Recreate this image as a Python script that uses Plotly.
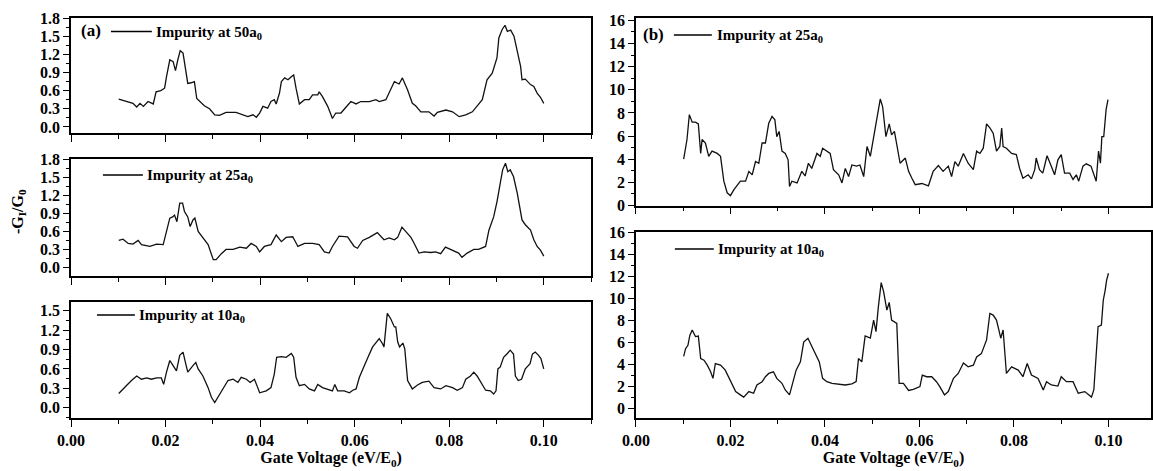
import plotly.graph_objects as go

FONT = "Liberation Serif, Times New Roman, serif"

# ---------------- data ----------------
a50_x = [0.0101,0.0117,0.0131,0.0139,0.0146,0.0153,0.0163,0.0174,0.0180,0.0190,0.0198,0.0202,0.0209,0.0216,0.0221,0.0226,0.0231,0.0237,0.0242,0.0247,0.0254,0.0261,0.0266,0.0272,0.0282,0.0293,0.0304,0.0314,0.0328,0.0349,0.0364,0.0374,0.0385,0.0392,0.0399,0.0406,0.0416,0.0423,0.0430,0.0434,0.0441,0.0445,0.0452,0.0459,0.0466,0.0471,0.0476,0.0483,0.0494,0.0504,0.0511,0.0522,0.0525,0.0532,0.0543,0.0553,0.0560,0.0571,0.0582,0.0592,0.0603,0.0613,0.0631,0.0645,0.0652,0.0666,0.0684,0.0694,0.0701,0.0712,0.0722,0.0729,0.0740,0.0757,0.0768,0.0775,0.0793,0.0807,0.0821,0.0835,0.0849,0.0859,0.0870,0.0880,0.0891,0.0901,0.0905,0.0912,0.0918,0.0923,0.0930,0.0937,0.0944,0.0951,0.0954,0.0961,0.0972,0.0979,0.0986,0.0993,0.1000]
a50_y = [0.46,0.42,0.39,0.33,0.39,0.34,0.42,0.38,0.58,0.60,0.64,0.83,1.11,1.08,0.93,1.11,1.26,1.22,1.00,0.72,0.73,0.75,0.47,0.42,0.35,0.30,0.20,0.19,0.24,0.24,0.20,0.17,0.20,0.16,0.23,0.34,0.31,0.42,0.45,0.38,0.56,0.75,0.81,0.78,0.83,0.86,0.64,0.38,0.45,0.45,0.53,0.53,0.58,0.50,0.34,0.14,0.23,0.23,0.33,0.42,0.38,0.42,0.42,0.45,0.42,0.45,0.75,0.71,0.81,0.61,0.39,0.35,0.25,0.25,0.18,0.24,0.28,0.25,0.17,0.20,0.25,0.34,0.45,0.78,0.89,1.14,1.47,1.61,1.68,1.58,1.60,1.50,1.27,1.00,0.78,0.79,0.70,0.67,0.56,0.49,0.39]

a25_x = [0.0101,0.0110,0.0121,0.0131,0.0142,0.0149,0.0167,0.0181,0.0195,0.0202,0.0209,0.0215,0.0219,0.0224,0.0230,0.0236,0.0240,0.0247,0.0252,0.0258,0.0262,0.0269,0.0279,0.0290,0.0301,0.0307,0.0318,0.0328,0.0343,0.0357,0.0371,0.0381,0.0392,0.0399,0.0409,0.0423,0.0434,0.0445,0.0455,0.0469,0.0480,0.0494,0.0511,0.0525,0.0536,0.0546,0.0553,0.0567,0.0585,0.0599,0.0606,0.0617,0.0631,0.0648,0.0662,0.0673,0.0684,0.0691,0.0700,0.0708,0.0719,0.0726,0.0736,0.0747,0.0761,0.0771,0.0782,0.0792,0.0806,0.0820,0.0827,0.0838,0.0852,0.0862,0.0877,0.0884,0.0894,0.0901,0.0908,0.0913,0.0919,0.0924,0.0929,0.0936,0.0944,0.0951,0.0954,0.0961,0.0972,0.0979,0.0986,0.0993,0.1000]
a25_y = [0.45,0.47,0.40,0.39,0.45,0.38,0.35,0.39,0.38,0.62,0.82,0.84,0.87,0.76,1.07,1.07,0.93,0.84,0.68,0.79,0.82,0.60,0.49,0.38,0.13,0.13,0.23,0.30,0.30,0.34,0.32,0.40,0.35,0.26,0.35,0.38,0.54,0.43,0.50,0.51,0.35,0.40,0.40,0.38,0.26,0.24,0.35,0.52,0.51,0.35,0.32,0.45,0.50,0.58,0.46,0.49,0.46,0.50,0.67,0.60,0.50,0.40,0.24,0.26,0.25,0.26,0.23,0.34,0.29,0.24,0.17,0.24,0.30,0.30,0.35,0.62,0.84,1.09,1.40,1.62,1.73,1.59,1.62,1.51,1.23,0.95,0.79,0.71,0.62,0.46,0.35,0.29,0.19]

a10_x = [0.0101,0.0107,0.0117,0.0128,0.0139,0.0149,0.0160,0.0170,0.0181,0.0191,0.0196,0.0202,0.0209,0.0216,0.0223,0.0230,0.0237,0.0242,0.0247,0.0258,0.0264,0.0269,0.0279,0.0290,0.0297,0.0304,0.0311,0.0321,0.0332,0.0343,0.0353,0.0360,0.0371,0.0379,0.0388,0.0395,0.0399,0.0413,0.0423,0.0430,0.0435,0.0445,0.0455,0.0466,0.0471,0.0476,0.0483,0.0494,0.0504,0.0515,0.0522,0.0532,0.0543,0.0553,0.0558,0.0564,0.0578,0.0589,0.0596,0.0603,0.0610,0.0617,0.0627,0.0638,0.0652,0.0659,0.0662,0.0669,0.0676,0.0684,0.0687,0.0691,0.0695,0.0702,0.0706,0.0712,0.0722,0.0733,0.0743,0.0757,0.0768,0.0782,0.0793,0.0807,0.0817,0.0828,0.0835,0.0845,0.0852,0.0859,0.0870,0.0877,0.0887,0.0894,0.0899,0.0903,0.0908,0.0915,0.0922,0.0929,0.0936,0.0940,0.0946,0.0953,0.0961,0.0971,0.0976,0.0982,0.0989,0.0994,0.1000]
a10_y = [0.22,0.27,0.34,0.42,0.49,0.44,0.46,0.44,0.46,0.46,0.36,0.55,0.73,0.65,0.57,0.81,0.86,0.70,0.55,0.65,0.70,0.60,0.49,0.31,0.16,0.08,0.16,0.29,0.42,0.44,0.39,0.47,0.44,0.39,0.44,0.31,0.23,0.26,0.31,0.52,0.78,0.79,0.78,0.84,0.78,0.47,0.34,0.36,0.29,0.26,0.36,0.31,0.29,0.26,0.36,0.26,0.26,0.23,0.27,0.29,0.47,0.60,0.76,0.94,1.07,0.99,0.94,1.46,1.38,1.25,1.25,1.02,0.94,1.00,0.91,0.42,0.29,0.35,0.39,0.41,0.31,0.29,0.34,0.31,0.27,0.31,0.44,0.49,0.55,0.49,0.36,0.27,0.26,0.21,0.26,0.60,0.63,0.78,0.83,0.89,0.83,0.49,0.42,0.44,0.60,0.68,0.83,0.86,0.81,0.76,0.60]

b25_x = [0.0101,0.0108,0.0113,0.0119,0.0126,0.0132,0.0137,0.0140,0.0147,0.0154,0.0161,0.0172,0.0179,0.0186,0.0193,0.0200,0.0207,0.0221,0.0232,0.0239,0.0246,0.0253,0.0260,0.0267,0.0274,0.0281,0.0288,0.0294,0.0298,0.0303,0.0309,0.0316,0.0322,0.0325,0.0330,0.0341,0.0351,0.0358,0.0365,0.0372,0.0383,0.0390,0.0395,0.0404,0.0411,0.0418,0.0429,0.0436,0.0443,0.0450,0.0457,0.0467,0.0474,0.0482,0.0489,0.0496,0.0503,0.0510,0.0517,0.0522,0.0529,0.0536,0.0541,0.0547,0.0552,0.0559,0.0570,0.0577,0.0584,0.0591,0.0605,0.0619,0.0629,0.0640,0.0650,0.0661,0.0668,0.0675,0.0682,0.0693,0.0703,0.0714,0.0721,0.0728,0.0735,0.0742,0.0749,0.0756,0.0763,0.0770,0.0774,0.0777,0.0784,0.0795,0.0805,0.0812,0.0819,0.0830,0.0837,0.0844,0.0847,0.0854,0.0861,0.0870,0.0879,0.0886,0.0893,0.0900,0.0907,0.0918,0.0925,0.0932,0.0937,0.0946,0.0953,0.0963,0.0974,0.0979,0.0983,0.0986,0.0990,0.0995,0.0999]
b25_y = [4.0,5.7,7.85,7.2,7.2,7.05,4.5,5.7,5.4,4.25,4.7,4.5,4.25,2.1,1.1,0.85,1.35,2.1,2.1,2.95,2.65,3.8,3.65,5.4,5.4,7.1,7.7,7.4,5.95,6.4,4.7,4.5,3.95,1.65,2.1,1.95,2.95,2.55,3.65,3.2,4.5,4.25,4.95,4.7,4.5,3.1,2.65,1.95,3.2,2.5,3.5,3.4,3.5,2.5,5.1,4.25,5.95,7.7,9.2,8.55,5.95,7.05,6.1,6.4,5.1,3.65,4.1,2.95,2.35,1.8,1.9,1.7,2.95,3.45,2.95,3.4,2.5,3.8,3.4,4.5,3.65,3.1,4.7,4.5,4.95,7.05,6.7,6.25,4.7,5.1,6.7,5.1,4.95,4.5,4.4,3.2,2.35,2.65,2.3,3.1,4.1,3.1,2.8,4.3,3.4,2.65,3.95,4.4,2.8,2.8,2.25,2.65,2.1,3.4,3.6,3.4,2.1,4.7,3.65,5.95,5.95,8.3,9.15]

b10_x = [0.0101,0.0105,0.0110,0.0114,0.0119,0.0122,0.0126,0.0132,0.0137,0.0144,0.0151,0.0158,0.0163,0.0168,0.0179,0.0189,0.0196,0.0203,0.0211,0.0221,0.0228,0.0239,0.0249,0.0256,0.0267,0.0274,0.0281,0.0291,0.0298,0.0309,0.0316,0.0325,0.0330,0.0339,0.0348,0.0355,0.0364,0.0372,0.0381,0.0388,0.0395,0.0404,0.0415,0.0429,0.0443,0.0457,0.0466,0.0471,0.0478,0.0485,0.0496,0.0503,0.0508,0.0513,0.0519,0.0524,0.0531,0.0536,0.0541,0.0552,0.0557,0.0566,0.0577,0.0587,0.0601,0.0606,0.0615,0.0626,0.0636,0.0643,0.0653,0.0661,0.0672,0.0682,0.0693,0.0703,0.0714,0.0721,0.0731,0.0742,0.0749,0.0756,0.0763,0.0768,0.0772,0.0777,0.0784,0.0795,0.0809,0.0819,0.0828,0.0837,0.0851,0.0862,0.0869,0.0879,0.0893,0.0900,0.0911,0.0925,0.0936,0.0950,0.0964,0.0969,0.0978,0.0985,0.0989,0.0993,0.0996,0.1000]
b10_y = [4.7,5.4,5.7,6.6,7.1,6.8,6.5,6.55,4.5,4.35,3.9,3.3,2.7,4.05,3.9,3.45,2.85,2.25,1.5,1.2,1.0,1.5,1.35,2.1,2.4,2.85,3.15,3.3,2.7,2.25,1.65,1.2,1.95,3.45,4.2,6.0,6.35,5.6,4.8,4.2,2.7,2.4,2.25,2.2,2.1,2.2,2.4,4.5,4.2,6.55,6.35,8.0,6.95,9.2,11.4,10.6,8.9,9.6,8.0,7.7,2.25,2.25,1.6,1.7,1.95,3.0,2.85,2.85,2.4,1.95,1.2,1.5,2.7,3.15,4.1,3.75,3.9,4.65,4.95,6.2,8.6,8.45,8.0,7.1,6.35,7.1,3.15,3.75,3.45,2.85,4.05,3.0,2.7,1.65,2.4,2.1,2.0,2.85,2.4,2.4,1.35,1.5,1.0,1.65,7.4,7.55,9.8,10.7,11.6,12.25]

left_ytick_vals = [0.0, 0.3, 0.6, 0.9, 1.2, 1.5, 1.8]
right_ytick_vals = [0, 2, 4, 6, 8, 10, 12, 14, 16]
xtick_vals = [0.00, 0.02, 0.04, 0.06, 0.08, 0.10]

labels = ["Impurity at 50a<sub>0</sub>", "Impurity at 25a<sub>0</sub>", "Impurity at 10a<sub>0</sub>",
          "Impurity at 25a<sub>0</sub>", "Impurity at 10a<sub>0</sub>"]

# ---------------- layout geometry ----------------
W, H = 1153, 471
ML, MR, MT, MB = 71, 0, 18, 53
PW, PH = W - ML - MR, H - MT - MB

def px(xp):
    return (xp - ML) / PW

def py(yp):
    return (H - MB - yp) / PH

LINE = dict(color="#111111", width=1.3)
fig = go.Figure()
series = [(a50_x, a50_y), (a25_x, a25_y), (a10_x, a10_y), (b25_x, b25_y), (b10_x, b10_y)]
for i, (xs, ys) in enumerate(series):
    n = "" if i == 0 else str(i + 1)
    fig.add_trace(go.Scatter(x=xs, y=ys, mode="lines", line=LINE, showlegend=False,
                             xaxis="x" + n, yaxis="y" + n, hoverinfo="skip"))

tickfont = dict(family=FONT, size=16, color="black", weight="bold")

def xax(domain, anchor, rng, labels_on):
    return dict(domain=domain, anchor=anchor, range=rng, showline=True, linecolor="black",
                linewidth=1.5, mirror=True, ticks="outside", ticklen=7, tickwidth=1.3,
                tickcolor="black", tickvals=xtick_vals, tickformat=".2f",
                showticklabels=labels_on, tickfont=tickfont, showgrid=False, zeroline=False,
                minor=dict(dtick=0.01, tick0=0, ticks="outside", ticklen=4, tickwidth=1.2,
                           tickcolor="black", showgrid=False))

def yax(domain, anchor, rng, vals, fmt, minor_dt, mlen=3):
    return dict(domain=domain, anchor=anchor, range=rng, showline=True, linecolor="black",
                linewidth=1.5, mirror=True, ticks="outside", ticklen=6, tickwidth=1.3,
                tickcolor="black", tickvals=vals, tickformat=fmt, tickfont=tickfont,
                showgrid=False, zeroline=False,
                minor=dict(dtick=minor_dt, tick0=0, ticks="outside", ticklen=mlen,
                           tickwidth=1.2, tickcolor="black", showgrid=False))

LX = [0, px(592)]
RX = [px(637), 1.0]
xtitle = dict(text="Gate Voltage (eV/E<sub>0</sub>)",
              font=dict(family=FONT, size=16, color="black", weight="bold"), standoff=4)

fig.update_layout(
    width=W, height=H, margin=dict(l=ML, r=MR, t=MT, b=MB),
    paper_bgcolor="white", plot_bgcolor="white",
    xaxis=xax(LX, "y", [0, 0.11], False),
    yaxis=yax([py(133), 1.0], "x", [-0.1, 1.8], left_ytick_vals, ".1f", 0.15),
    xaxis2=xax(LX, "y2", [0, 0.11], False),
    yaxis2=yax([py(276), py(159)], "x2", [-0.14, 1.8], left_ytick_vals, ".1f", 0.15),
    xaxis3=xax(LX, "y3", [0, 0.11], True),
    yaxis3=yax([0, py(301.7)], "x3", [-0.16, 1.64], left_ytick_vals[:-1], ".1f", 0.15),
    xaxis4=xax(RX, "y4", [0, 0.109], False),
    yaxis4=yax([py(205.5), 1.0], "x4", [0, 16.2], right_ytick_vals, "d", 1),
    xaxis5=xax(RX, "y5", [0, 0.109], True),
    yaxis5=yax([0, py(232)], "x5", [-0.9, 16], right_ytick_vals, "d", 1),
)
fig.layout.xaxis3.title = xtitle
fig.layout.xaxis5.title = xtitle

# ---------------- in-panel keys ----------------
txtfont = dict(family=FONT, size=15, color="black", weight="bold")
keys = [  # (line x0, line x1, y, text-left x)
    (111, 152, 31.5, 154),
    (103, 143, 175, 145),
    (97, 135, 315, 137),
    (675, 713, 35, 716),
    (676, 715, 249, 717),
]
shapes, annots = [], []
for (x0, x1, yy, tx), lab in zip(keys, labels):
    shapes.append(dict(type="line", xref="paper", yref="paper", x0=px(x0), x1=px(x1),
                       y0=py(yy), y1=py(yy), line=dict(color="black", width=1.3)))
    annots.append(dict(xref="paper", yref="paper", x=px(tx), y=py(yy + 1), text=lab,
                       showarrow=False, xanchor="left", yanchor="middle", font=txtfont))
annots.append(dict(xref="paper", yref="paper", x=px(79), y=py(31), text="(a)", showarrow=False,
                   xanchor="left", yanchor="middle",
                   font=dict(family=FONT, size=17, color="black", weight="bold")))
annots.append(dict(xref="paper", yref="paper", x=px(642), y=py(35), text="(b)", showarrow=False,
                   xanchor="left", yanchor="middle",
                   font=dict(family=FONT, size=17, color="black", weight="bold")))
annots.append(dict(xref="paper", yref="paper", x=px(18), y=py(212),
                   text="-G<sub>I</sub>/G<sub>0</sub>", showarrow=False, textangle=-90,
                   xanchor="center", yanchor="middle",
                   font=dict(family=FONT, size=16, color="black", weight="bold")))
fig.update_layout(shapes=shapes, annotations=annots)

fig.write_html("out.html", config={"displayModeBar": False},
               post_script="document.body.style.margin='0';document.body.style.overflow='hidden';")
